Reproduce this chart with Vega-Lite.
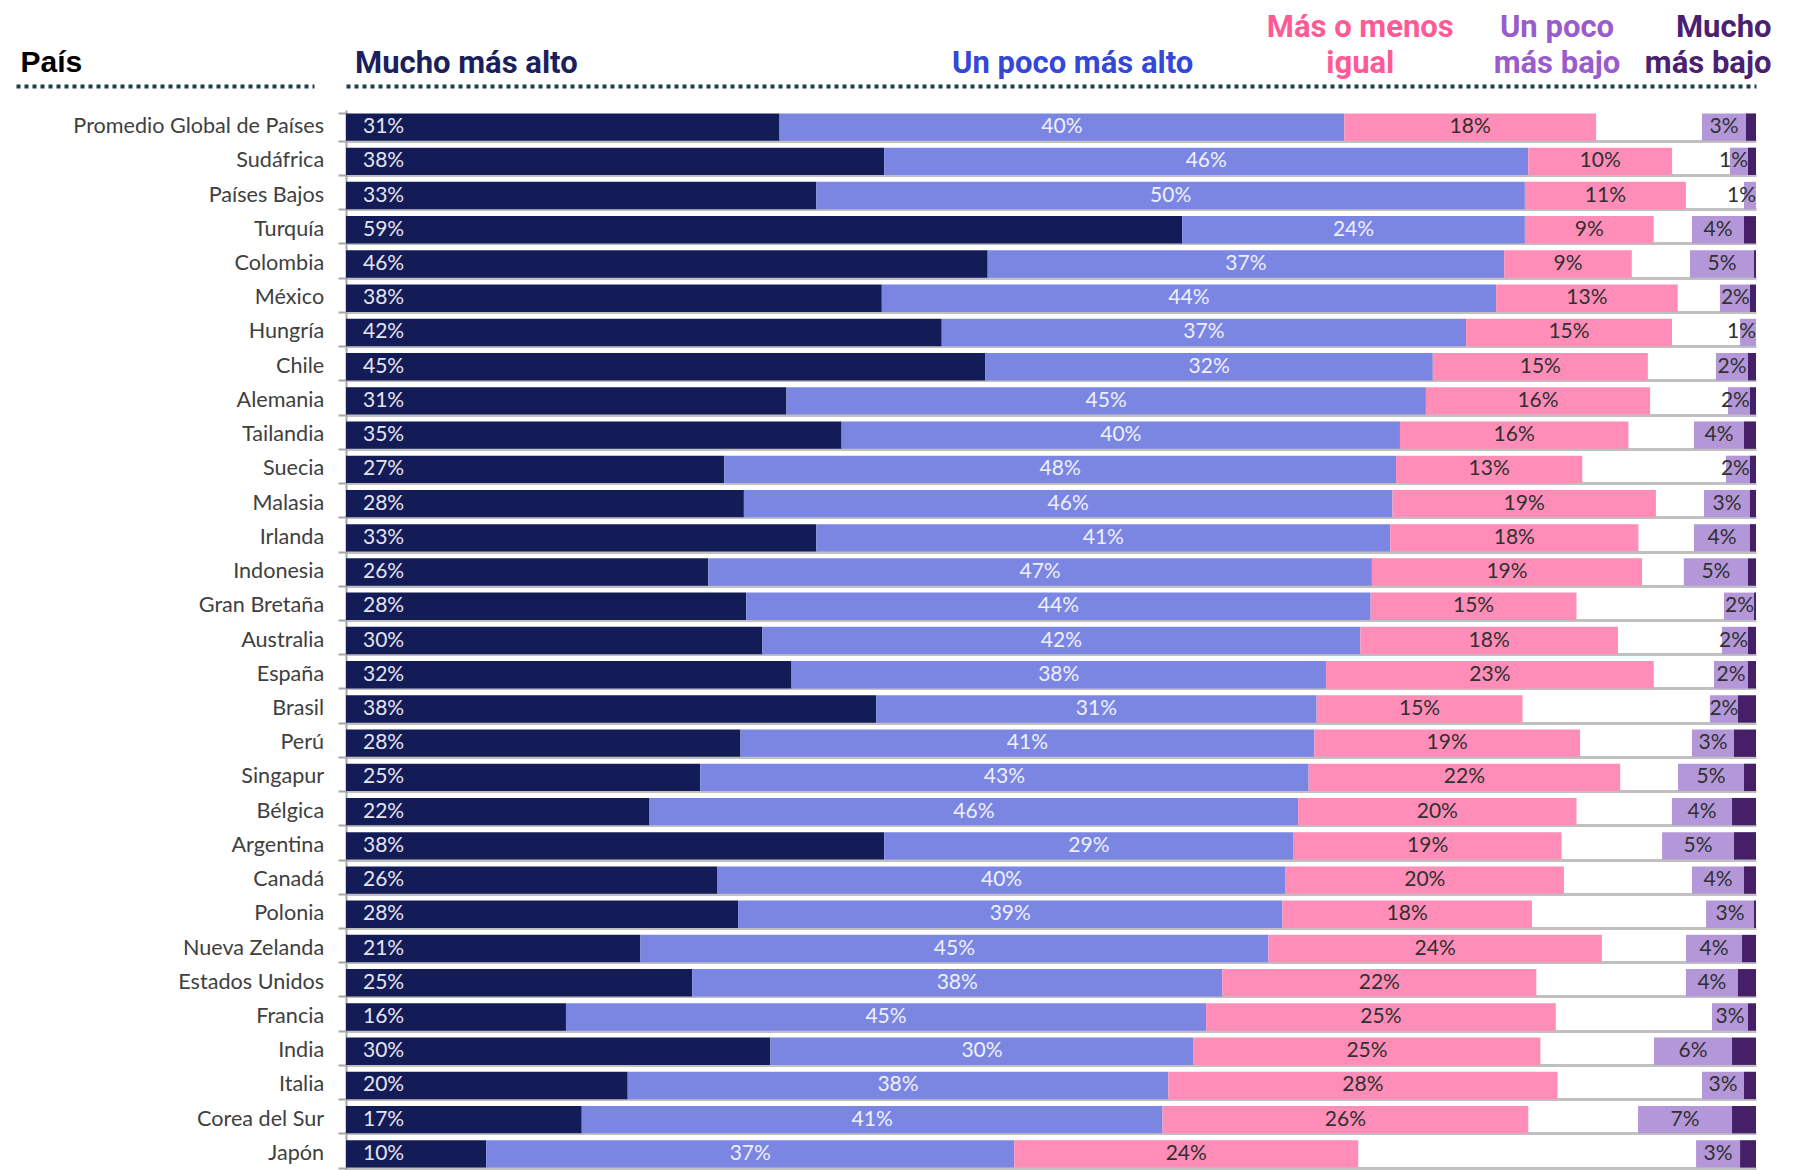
{
  "$schema": "https://vega.github.io/schema/vega-lite/v6.json",
  "background": "white",
  "padding": {"left": 16, "top": 11, "right": 0, "bottom": 0},
  "config": {"view": {"stroke": null}, "font": "Lato"},
  "data": {"values": [
    {"pais": "Promedio Global de Países", "a_mucho_alto": 0.3075, "b_poco_alto": 0.4005, "c_igual": 0.1786, "d_ns": 0.0751, "e_poco_bajo": 0.0312, "f_mucho_bajo": 0.0071},
    {"pais": "Sudáfrica", "a_mucho_alto": 0.3817, "b_poco_alto": 0.4568, "c_igual": 0.1020, "d_ns": 0.0410, "e_poco_bajo": 0.0128, "f_mucho_bajo": 0.0057},
    {"pais": "Países Bajos", "a_mucho_alto": 0.3336, "b_poco_alto": 0.5025, "c_igual": 0.1142, "d_ns": 0.0412, "e_poco_bajo": 0.0085, "f_mucho_bajo": 0.0},
    {"pais": "Turquía", "a_mucho_alto": 0.5930, "b_poco_alto": 0.2431, "c_igual": 0.0913, "d_ns": 0.0272, "e_poco_bajo": 0.0369, "f_mucho_bajo": 0.0085},
    {"pais": "Colombia", "a_mucho_alto": 0.4551, "b_poco_alto": 0.3663, "c_igual": 0.0905, "d_ns": 0.0413, "e_poco_bajo": 0.0454, "f_mucho_bajo": 0.0014},
    {"pais": "México", "a_mucho_alto": 0.3800, "b_poco_alto": 0.4357, "c_igual": 0.1288, "d_ns": 0.0299, "e_poco_bajo": 0.0213, "f_mucho_bajo": 0.0043},
    {"pais": "Hungría", "a_mucho_alto": 0.4225, "b_poco_alto": 0.3719, "c_igual": 0.1460, "d_ns": 0.0483, "e_poco_bajo": 0.0113, "f_mucho_bajo": 0.0},
    {"pais": "Chile", "a_mucho_alto": 0.4535, "b_poco_alto": 0.3173, "c_igual": 0.1525, "d_ns": 0.0483, "e_poco_bajo": 0.0227, "f_mucho_bajo": 0.0057},
    {"pais": "Alemania", "a_mucho_alto": 0.3124, "b_poco_alto": 0.4535, "c_igual": 0.1590, "d_ns": 0.0552, "e_poco_bajo": 0.0156, "f_mucho_bajo": 0.0043},
    {"pais": "Tailandia", "a_mucho_alto": 0.3515, "b_poco_alto": 0.3960, "c_igual": 0.1620, "d_ns": 0.0465, "e_poco_bajo": 0.0355, "f_mucho_bajo": 0.0085},
    {"pais": "Suecia", "a_mucho_alto": 0.2683, "b_poco_alto": 0.4764, "c_igual": 0.1321, "d_ns": 0.1019, "e_poco_bajo": 0.0170, "f_mucho_bajo": 0.0043},
    {"pais": "Malasia", "a_mucho_alto": 0.2822, "b_poco_alto": 0.4600, "c_igual": 0.1868, "d_ns": 0.0341, "e_poco_bajo": 0.0326, "f_mucho_bajo": 0.0043},
    {"pais": "Irlanda", "a_mucho_alto": 0.3336, "b_poco_alto": 0.4070, "c_igual": 0.1760, "d_ns": 0.0394, "e_poco_bajo": 0.0397, "f_mucho_bajo": 0.0043},
    {"pais": "Indonesia", "a_mucho_alto": 0.2569, "b_poco_alto": 0.4707, "c_igual": 0.1916, "d_ns": 0.0296, "e_poco_bajo": 0.0455, "f_mucho_bajo": 0.0057},
    {"pais": "Gran Bretaña", "a_mucho_alto": 0.2838, "b_poco_alto": 0.4429, "c_igual": 0.1460, "d_ns": 0.1046, "e_poco_bajo": 0.0213, "f_mucho_bajo": 0.0014},
    {"pais": "Australia", "a_mucho_alto": 0.2953, "b_poco_alto": 0.4241, "c_igual": 0.1827, "d_ns": 0.0738, "e_poco_bajo": 0.0184, "f_mucho_bajo": 0.0057},
    {"pais": "España", "a_mucho_alto": 0.3160, "b_poco_alto": 0.3790, "c_igual": 0.2325, "d_ns": 0.0427, "e_poco_bajo": 0.0241, "f_mucho_bajo": 0.0057},
    {"pais": "Brasil", "a_mucho_alto": 0.3760, "b_poco_alto": 0.3124, "c_igual": 0.1460, "d_ns": 0.1329, "e_poco_bajo": 0.0199, "f_mucho_bajo": 0.0128},
    {"pais": "Perú", "a_mucho_alto": 0.2798, "b_poco_alto": 0.4070, "c_igual": 0.1884, "d_ns": 0.0794, "e_poco_bajo": 0.0298, "f_mucho_bajo": 0.0156},
    {"pais": "Singapur", "a_mucho_alto": 0.2512, "b_poco_alto": 0.4315, "c_igual": 0.2210, "d_ns": 0.0410, "e_poco_bajo": 0.0468, "f_mucho_bajo": 0.0085},
    {"pais": "Bélgica", "a_mucho_alto": 0.2153, "b_poco_alto": 0.4600, "c_igual": 0.1974, "d_ns": 0.0677, "e_poco_bajo": 0.0426, "f_mucho_bajo": 0.0170},
    {"pais": "Argentina", "a_mucho_alto": 0.3817, "b_poco_alto": 0.2904, "c_igual": 0.1900, "d_ns": 0.0713, "e_poco_bajo": 0.0510, "f_mucho_bajo": 0.0156},
    {"pais": "Canadá", "a_mucho_alto": 0.2635, "b_poco_alto": 0.4029, "c_igual": 0.1974, "d_ns": 0.0908, "e_poco_bajo": 0.0369, "f_mucho_bajo": 0.0085},
    {"pais": "Polonia", "a_mucho_alto": 0.2781, "b_poco_alto": 0.3860, "c_igual": 0.1770, "d_ns": 0.1235, "e_poco_bajo": 0.0340, "f_mucho_bajo": 0.0014},
    {"pais": "Nueva Zelanda", "a_mucho_alto": 0.2088, "b_poco_alto": 0.4454, "c_igual": 0.2365, "d_ns": 0.0597, "e_poco_bajo": 0.0397, "f_mucho_bajo": 0.0099},
    {"pais": "Estados Unidos", "a_mucho_alto": 0.2455, "b_poco_alto": 0.3760, "c_igual": 0.2227, "d_ns": 0.1061, "e_poco_bajo": 0.0369, "f_mucho_bajo": 0.0128},
    {"pais": "Francia", "a_mucho_alto": 0.1560, "b_poco_alto": 0.4540, "c_igual": 0.2480, "d_ns": 0.1108, "e_poco_bajo": 0.0255, "f_mucho_bajo": 0.0057},
    {"pais": "India", "a_mucho_alto": 0.3010, "b_poco_alto": 0.3001, "c_igual": 0.2460, "d_ns": 0.0806, "e_poco_bajo": 0.0553, "f_mucho_bajo": 0.0170},
    {"pais": "Italia", "a_mucho_alto": 0.1998, "b_poco_alto": 0.3834, "c_igual": 0.2760, "d_ns": 0.1025, "e_poco_bajo": 0.0298, "f_mucho_bajo": 0.0085},
    {"pais": "Corea del Sur", "a_mucho_alto": 0.1672, "b_poco_alto": 0.4119, "c_igual": 0.2594, "d_ns": 0.0778, "e_poco_bajo": 0.0667, "f_mucho_bajo": 0.0170},
    {"pais": "Japón", "a_mucho_alto": 0.0995, "b_poco_alto": 0.3744, "c_igual": 0.2440, "d_ns": 0.2396, "e_poco_bajo": 0.0312, "f_mucho_bajo": 0.0113}
  ]},
  "spacing": 12,
  "hconcat": [
    {
      "width": 298,
      "height": 1061,
      "mark": {"type": "text", "align": "right", "baseline": "middle", "font": "Lato", "fontSize": 21.6, "color": "#404040"},
      "encoding": {
        "y": {"field": "pais", "type": "nominal", "sort": null, "scale": {"paddingInner": 0.2, "paddingOuter": 0.1}, "axis": null},
        "x": {"datum": 1.034, "type": "quantitative", "scale": {"domain": [0, 1], "nice": false},
          "axis": {"orient": "top", "offset": 24, "ticks": false, "labels": false, "grid": false, "domain": true,
            "domainColor": "#1b4052", "domainWidth": 4, "domainDash": [4, 4],
            "title": "País", "titleAnchor": "start", "titleAlign": "left", "titleX": 4, "titleFont": "Liberation Sans", "titleFontWeight": "bold", "titleFontSize": 30, "titleColor": "#000000", "titlePadding": 9}},
        "text": {"field": "pais", "type": "nominal"}
      }
    },
    {
      "width": 1410,
      "height": 1061,
      "transform": [{"fold": ["a_mucho_alto", "b_poco_alto", "c_igual", "d_ns", "e_poco_bajo", "f_mucho_bajo"], "as": ["cat", "value"]}],
      "encoding": {
        "y": {"field": "pais", "type": "nominal", "sort": null, "scale": {"paddingInner": 0.2, "paddingOuter": 0.1},
          "axis": {"labels": false, "title": null, "ticks": true, "tickBand": "extent", "tickSize": 8, "tickColor": "#a6a6a6", "tickWidth": 2, "minExtent": 0,
            "domain": true, "domainColor": "#a6a6a6", "domainWidth": 2, "grid": true, "gridColor": "#c0c0c0", "gridWidth": 3,
            "gridOpacity": {"condition": {"test": "datum.extra", "value": 0}, "value": 1}}},
        "order": {"field": "cat", "sort": "ascending"}
      },
      "layer": [
        {
          "mark": {"type": "bar"},
          "encoding": {
            "x": {"field": "value", "type": "quantitative", "stack": "zero", "scale": {"domain": [0, 1], "nice": false},
              "axis": {"orient": "top", "offset": 24, "values": [0.085, 0.515, 0.719, 0.8585, 1.0],
                "labelExpr": "datum.value < 0.3 ? ['', 'Mucho más alto'] : datum.value < 0.6 ? ['', 'Un poco más alto'] : datum.value < 0.8 ? ['Más o menos', 'igual'] : datum.value < 0.9 ? ['Un poco', 'más bajo'] : ['Mucho', 'más bajo']",
                "labelAlign": {"condition": {"test": "datum.value > 0.95", "value": "right"}, "value": "center"},
                "labelOffset": {"condition": {"test": "datum.value > 0.95", "value": 15}, "value": 0},
                "labelColor": {"condition": [
                  {"test": "datum.value < 0.3", "value": "#1a1f5e"},
                  {"test": "datum.value < 0.6", "value": "#3547d6"},
                  {"test": "datum.value < 0.8", "value": "#ff5a96"},
                  {"test": "datum.value < 0.9", "value": "#9a5ccc"}
                ], "value": "#4a2170"},
                "labelFont": "Roboto", "labelFontWeight": "bold", "labelFontSize": 31, "labelLineHeight": 36, "labelLimit": 0,
                "labelBaseline": "alphabetic", "labelPadding": 50, "labelOverlap": false, "labelBound": false, "labelFlush": false,
                "ticks": false, "tickSize": 0, "grid": false, "domain": true, "domainColor": "#1b4052", "domainWidth": 4, "domainDash": [4, 4], "title": null}},
            "color": {"field": "cat", "type": "nominal", "legend": null,
              "scale": {"domain": ["a_mucho_alto", "b_poco_alto", "c_igual", "d_ns", "e_poco_bajo", "f_mucho_bajo"],
                "range": ["#141c58", "#7b86e3", "#ff8db7", "rgba(255,255,255,0)", "#b497d9", "#452068"]}}
          }
        },
        {
          "mark": {"type": "text", "align": "left", "baseline": "middle", "dx": 17, "font": "Lato", "fontSize": 21},
          "encoding": {
            "x": {"field": "value", "type": "quantitative", "stack": "zero", "bandPosition": 0},
            "text": {"condition": {"test": "datum.cat === 'a_mucho_alto'", "field": "value", "type": "quantitative", "format": ".0%"}, "value": ""},
            "color": {"value": "#e4e5f0"}
          }
        },
        {
          "mark": {"type": "text", "align": "center", "baseline": "middle", "font": "Lato", "fontSize": 21},
          "encoding": {
            "x": {"field": "value", "type": "quantitative", "stack": "zero", "bandPosition": 0.5},
            "text": {"condition": {"test": "datum.cat === 'b_poco_alto' || datum.cat === 'c_igual' || (datum.cat === 'e_poco_bajo' && datum.value_start + datum.value_end <= 1.9667)", "field": "value", "type": "quantitative", "format": ".0%"}, "value": ""},
            "color": {"condition": {"test": "datum.cat === 'b_poco_alto'", "value": "#eef0ff"}, "value": "#303030"}
          }
        },
        {
          "mark": {"type": "text", "align": "right", "baseline": "middle", "font": "Lato", "fontSize": 21},
          "encoding": {
            "x": {"field": "value", "type": "quantitative", "stack": "zero", "bandPosition": 1},
            "text": {"condition": {"test": "datum.cat === 'e_poco_bajo' && datum.value_start + datum.value_end > 1.9667", "field": "value", "type": "quantitative", "format": ".0%"}, "value": ""},
            "color": {"value": "#303030"}
          }
        }
      ]
    }
  ]
}
